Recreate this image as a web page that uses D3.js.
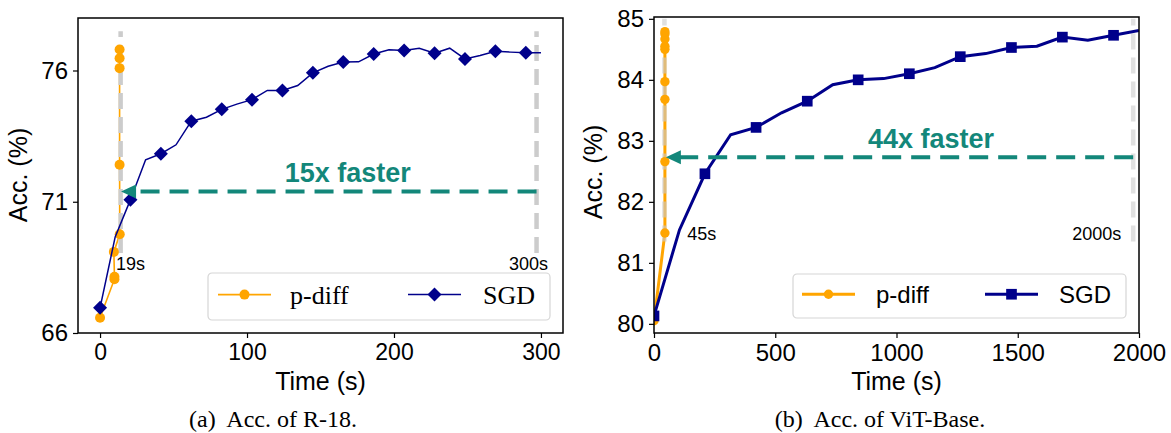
<!DOCTYPE html>
<html>
<head>
<meta charset="utf-8">
<script src="https://cdn.jsdelivr.net/npm/d3@7"></script>
<style>
  body { margin: 0; background: #fff; }
  text { font-family: "Liberation Sans", Arial, sans-serif; }
</style>
</head>
<body>
<svg id="fig" width="1171" height="433"></svg>
<script>
// (a) R-18: SGD curve, recorded roughly every 10s
const r18SgdTime = [0, 10.3, 20.7, 31, 41.4, 51.7, 62.1, 72.4, 82.8, 93.1, 103.4, 113.8, 124.1, 134.5, 144.8,
                    155.2, 165.5, 175.9, 186.2, 196.6, 206.9, 217.2, 227.6, 237.9, 248.3, 258.6, 269, 279.3, 289.7, 300];
const r18SgdAcc = [66.96, 69.66, 71.08, 72.6, 72.83, 73.17, 74.07, 74.22, 74.52, 74.72, 74.89, 75.24, 75.24, 75.43, 75.91,
                   76.16, 76.32, 76.33, 76.63, 76.79, 76.76, 76.85, 76.66, 76.85, 76.44, 76.57, 76.73, 76.7, 76.68, 76.68];
// (a) R-18: p-diff
const r18PdiffTime = [0, 9.8, 9.8, 9.4, 13.4, 13.3, 13.3, 13.3, 13.3];
const r18PdiffAcc = [66.58, 68.05, 68.14, 69.09, 69.76, 72.41, 76.09, 76.47, 76.8];

// (b) ViT-Base: SGD
const vitSgdTime = [0, 105, 210, 316, 421, 526, 632, 737, 842, 947, 1053, 1158, 1263, 1368, 1474, 1579, 1684, 1789, 1895, 2000];
const vitSgdAcc = [80.13, 81.54, 82.46, 83.1, 83.22, 83.46, 83.65, 83.92, 84.0, 84.02, 84.1, 84.2, 84.38, 84.43, 84.53,
                   84.55, 84.7, 84.65, 84.73, 84.81];
// (b) ViT-Base: p-diff
const vitPdiffTime = [0, 45, 45, 45, 45, 45, 45, 45, 45, 45];
const vitPdiffAcc = [80.05, 81.49, 82.66, 83.68, 83.97, 84.5, 84.55, 84.67, 84.75, 84.79];

const r18XTicks = [0, 100, 200, 300];
const r18YTicks = [66, 71, 76];
const vitXTicks = [0, 500, 1000, 1500, 2000];
const vitYTicks = [80, 81, 82, 83, 84, 85];

const orange = "#ffa500", navy = "#00008b", teal = "#13877a", gray = "#cccccc";

const svg = d3.select("#fig");

function drawPanel(cfg) {
    const g = svg.append("g");
    const x = d3.scaleLinear().domain(cfg.xDomain).range([cfg.left, cfg.right]);
    const y = d3.scaleLinear().domain(cfg.yDomain).range([cfg.bottom, cfg.top]);

    const clipId = "clip-" + cfg.id;
    svg.append("clipPath").attr("id", clipId)
        .append("rect")
        .attr("x", cfg.left).attr("y", cfg.top)
        .attr("width", cfg.right - cfg.left).attr("height", cfg.bottom - cfg.top);

    const plot = g.append("g").attr("clip-path", `url(#${clipId})`);
    const line = d3.line().x(d => x(d[0])).y(d => y(d[1]));

    // p-diff line
    const pd = cfg.pdiffTime.map((t, i) => [t, cfg.pdiffAcc[i]]);
    plot.append("path").datum(pd)
        .attr("d", line)
        .attr("fill", "none").attr("stroke", orange)
        .attr("stroke-width", cfg.lineWidth);

    // gray dashed time markers
    cfg.vlines.forEach(v => {
        plot.append("line")
            .attr("x1", x(v)).attr("x2", x(v))
            .attr("y1", y(cfg.vlineRange[0])).attr("y2", y(cfg.vlineRange[1]))
            .attr("stroke", gray).attr("stroke-width", 4.5)
            .attr("stroke-dasharray", "16,8")
            .attr("opacity", cfg.vlineOpacity);
    });

    plot.selectAll(".pd-dot").data(pd).join("circle")
        .attr("cx", d => x(d[0])).attr("cy", d => y(d[1]))
        .attr("r", cfg.circleR).attr("fill", orange);

    // SGD line + every other point marked
    const sg = cfg.sgdTime.map((t, i) => [t, cfg.sgdAcc[i]]);
    plot.append("path").datum(sg)
        .attr("d", line)
        .attr("fill", "none").attr("stroke", navy)
        .attr("stroke-width", cfg.sgdWidth);

    const sym = d3.symbol().type(d3.symbolSquare).size(cfg.sgdSize);
    plot.selectAll(".sg-mark").data(sg.filter((d, i) => i % 2 === 0)).join("path")
        .attr("d", sym)
        .attr("transform", d => `translate(${x(d[0])},${y(d[1])}) rotate(${cfg.sgdRotate})`)
        .attr("fill", navy);

    // speed-up arrow
    const ay = y(cfg.arrow.y);
    const tip = x(cfg.arrow.to);
    g.append("line")
        .attr("x1", x(cfg.arrow.from)).attr("x2", tip + 13)
        .attr("y1", ay).attr("y2", ay)
        .attr("stroke", teal).attr("stroke-width", 4)
        .attr("stroke-dasharray", "19,10");
    g.append("path")
        .attr("d", `M${tip},${ay} L${tip + 15},${ay - 7} L${tip + 15},${ay + 7} Z`)
        .attr("fill", teal);
    g.append("text")
        .attr("x", x(cfg.arrow.textX)).attr("y", y(cfg.arrow.textY))
        .attr("fill", teal).attr("font-weight", "bold").attr("font-size", 27)
        .text(cfg.arrow.label);

    // time labels
    cfg.timeLabels.forEach(l => {
        g.append("text")
            .attr("x", x(l.x)).attr("y", y(l.y))
            .attr("font-size", 18).attr("fill", "#000")
            .text(l.text);
    });

    // frame
    g.append("rect")
        .attr("x", cfg.left).attr("y", cfg.top)
        .attr("width", cfg.right - cfg.left).attr("height", cfg.bottom - cfg.top)
        .attr("fill", "none").attr("stroke", "#000").attr("stroke-width", 1.5);

    // axes
    const xAxis = g.append("g")
        .attr("transform", `translate(0,${cfg.bottom})`)
        .call(d3.axisBottom(x).tickValues(cfg.xTicks).tickFormat(d3.format("d")).tickSize(5).tickPadding(6));
    const yAxis = g.append("g")
        .attr("transform", `translate(${cfg.left},0)`)
        .call(d3.axisLeft(y).tickValues(cfg.yTicks).tickFormat(d3.format("d")).tickSize(5).tickPadding(5));
    [xAxis, yAxis].forEach(a => {
        a.select(".domain").remove();
        a.selectAll(".tick line").attr("stroke", "#000").attr("stroke-width", 1.2);
        a.selectAll("text").attr("fill", "#000")
            .style("font-family", "'Liberation Sans', Arial, sans-serif");
    });
    xAxis.selectAll("text").attr("font-size", cfg.xTickSize);
    yAxis.selectAll("text").attr("font-size", cfg.yTickSize);

    g.append("text")
        .attr("x", (cfg.left + cfg.right) / 2).attr("y", cfg.bottom + 57)
        .attr("text-anchor", "middle").attr("font-size", 25)
        .text("Time (s)");
    g.append("text")
        .attr("transform", `translate(${cfg.yLabelX},${cfg.yLabelY}) rotate(-90)`)
        .attr("text-anchor", "middle").attr("font-size", 25)
        .text("Acc. (%)");

    // caption
    g.append("text")
        .attr("x", cfg.captionX).attr("y", cfg.bottom + 94)
        .attr("text-anchor", "middle")
        .style("font-family", "'Liberation Serif', 'Times New Roman', serif")
        .style("white-space", "pre")
        .attr("font-size", 24)
        .text(cfg.caption);

    // legend
    const lg = cfg.legend;
    const leg = g.append("g").attr("transform", `translate(${lg.x},${lg.y})`);
    leg.append("rect")
        .attr("width", lg.w).attr("height", lg.h).attr("rx", 4)
        .attr("fill", "#fff").attr("fill-opacity", 0.8)
        .attr("stroke", "#d6d6d6").attr("stroke-width", 1.2);
    const items = [
        { label: "p-diff", color: orange, kind: "circle" },
        { label: "SGD", color: navy, kind: "sgd" }
    ];
    items.forEach((it, i) => {
        const hx = lg.handleX[i];
        const hy = lg.h * 0.46;
        leg.append("line")
            .attr("x1", hx).attr("x2", hx + 53).attr("y1", hy).attr("y2", hy)
            .attr("stroke", it.color).attr("stroke-width", it.kind === "circle" ? cfg.lineWidth : cfg.sgdWidth);
        if (it.kind === "circle") {
            leg.append("circle").attr("cx", hx + 26.5).attr("cy", hy).attr("r", cfg.circleR).attr("fill", it.color);
        } else {
            leg.append("path").attr("d", sym)
                .attr("transform", `translate(${hx + 26.5},${hy}) rotate(${cfg.sgdRotate})`)
                .attr("fill", it.color);
        }
        leg.append("text")
            .attr("x", lg.textX[i]).attr("y", lg.baseline)
            .style("font-family", lg.font)
            .attr("font-size", lg.fontSize)
            .text(it.label);
    });
}

drawPanel({
    id: "r18", left: 78, right: 563, top: 18, bottom: 333,
    xDomain: [-15, 315], yDomain: [66, 78],
    xTicks: r18XTicks, yTicks: r18YTicks, xTickSize: 23, yTickSize: 24,
    sgdTime: r18SgdTime, sgdAcc: r18SgdAcc, pdiffTime: r18PdiffTime, pdiffAcc: r18PdiffAcc,
    lineWidth: 1.6, sgdWidth: 1.5, circleR: 5, sgdSize: 98, sgdRotate: 45,
    vlines: [14, 297], vlineRange: [69.05, 77.5], vlineOpacity: 1,
    arrow: { from: 297, to: 14.3, y: 71.39, label: "15x faster", textX: 125.6, textY: 71.75 },
    timeLabels: [{ x: 10.9, y: 68.4, text: "19s" }, { x: 278.3, y: 68.4, text: "300s" }],
    yLabelX: 27, yLabelY: 175,
    caption: "(a)  Acc. of R-18.", captionX: 273,
    legend: { x: 208, y: 273, w: 342, h: 47, handleX: [10, 200], textX: [82, 275], baseline: 30.5,
              font: "'Liberation Serif', 'Times New Roman', serif", fontSize: 26 }
});

drawPanel({
    id: "vit", left: 654, right: 1139, top: 17, bottom: 333,
    xDomain: [0, 2000], yDomain: [79.85, 85.03],
    xTicks: vitXTicks, yTicks: vitYTicks, xTickSize: 24, yTickSize: 24,
    sgdTime: vitSgdTime, sgdAcc: vitSgdAcc, pdiffTime: vitPdiffTime, pdiffAcc: vitPdiffAcc,
    lineWidth: 3, sgdWidth: 3, circleR: 4.7, sgdSize: 114, sgdRotate: 0,
    vlines: [43, 1976], vlineRange: [81.35, 85.0], vlineOpacity: 0.6,
    arrow: { from: 1976, to: 49, y: 82.73, label: "44x faster", textX: 882, textY: 82.88 },
    timeLabels: [{ x: 137, y: 81.38, text: "45s" }, { x: 1725, y: 81.38, text: "2000s" }],
    yLabelX: 602, yLabelY: 172,
    caption: "(b)  Acc. of ViT-Base.", captionX: 880,
    legend: { x: 793, y: 274, w: 333, h: 44, handleX: [9, 192], textX: [83, 266], baseline: 29,
              font: "'Liberation Sans', Arial, sans-serif", fontSize: 24 }
});
</script>
</body>
</html>
